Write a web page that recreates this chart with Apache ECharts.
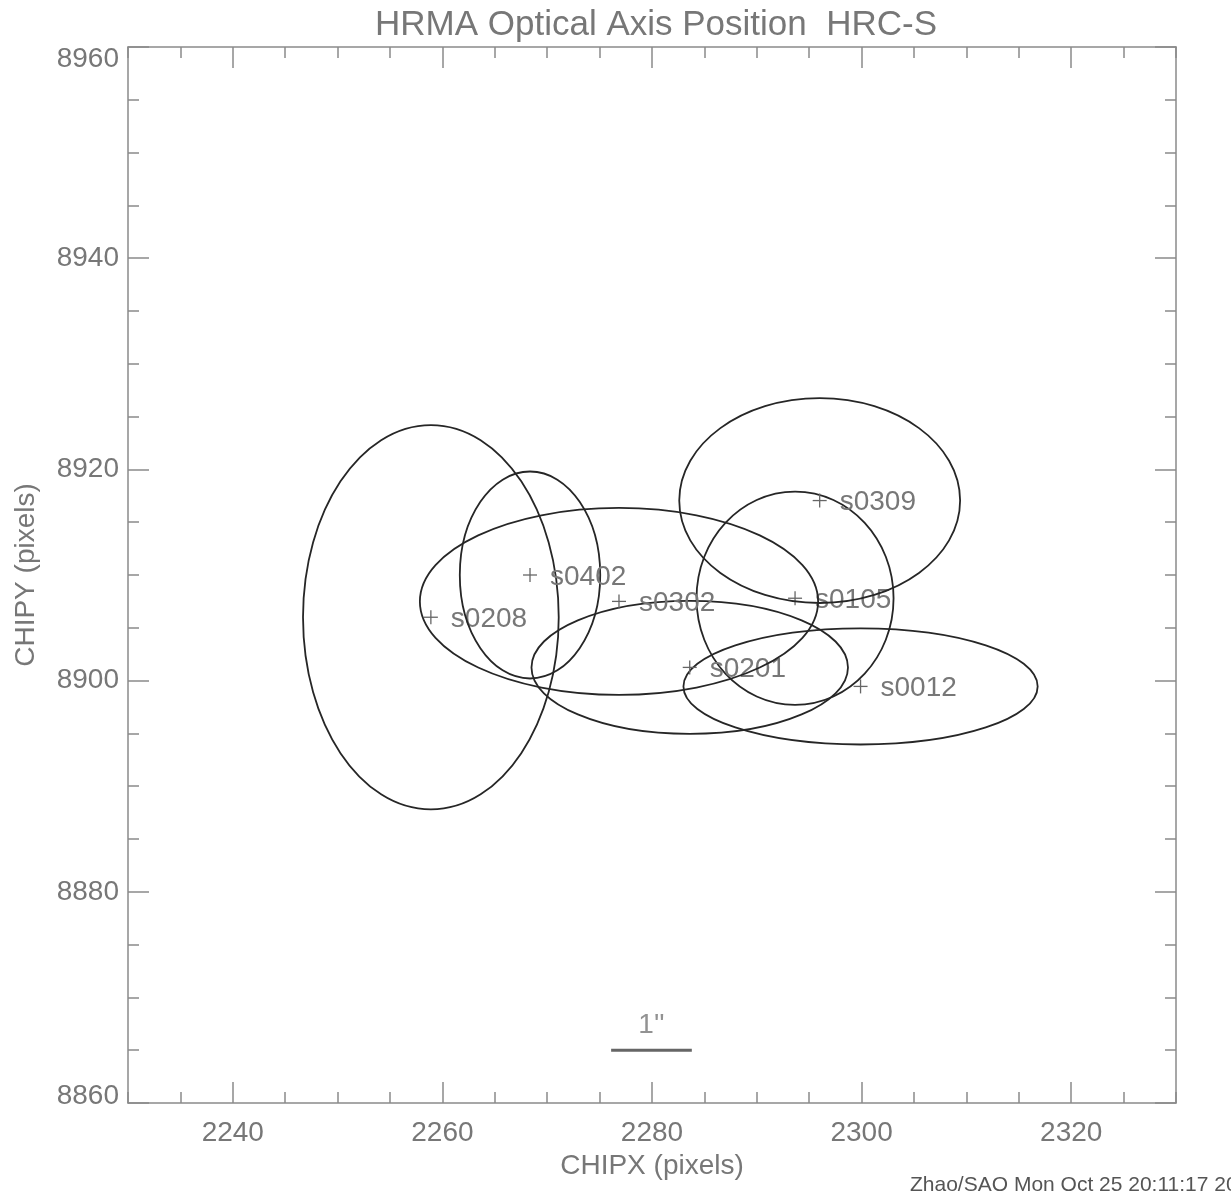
<!DOCTYPE html>
<html>
<head>
<meta charset="utf-8">
<script src="https://cdn.jsdelivr.net/npm/echarts@6/dist/echarts.min.js"></script>
<style>
html,body{margin:0;padding:0;background:#fff;}
#chart{width:1231px;height:1198px;}
</style>
</head>
<body>
<div id="chart"></div>
<script>
// ---- data ----
const sourceNames = ['s0012', 's0105', 's0201', 's0208', 's0302', 's0309', 's0402'];
const centerX = [2299.9, 2293.65, 2283.6, 2258.9, 2276.85, 2296.0, 2268.36];
const centerY = [8899.45, 8907.8, 8901.25, 8906.0, 8907.5, 8917.05, 8910.0];
const radiusX = [16.9, 9.4, 15.1, 12.2, 19.0, 13.4, 6.7];
const radiusY = [5.5, 10.1, 6.3, 18.2, 8.85, 9.7, 9.8];
const xMajorTicks = [2240, 2260, 2280, 2300, 2320];
const scaleBarX = [2276.1, 2283.8];
const scaleBarY = 8865.0;
const scaleBarLabel = "1''";
const scaleBarLabelPos = [2279.95, 8867.4];
const titleText = 'HRMA Optical Axis Position  HRC-S';
const footerText = 'Zhao/SAO Mon Oct 25 20:11:17 2010';

const FONT = '"Liberation Sans", Arial, sans-serif';
const TXT = '#777';
const AX = '#8a8a8a';

const ellipseData = sourceNames.map((n, i) => [centerX[i], centerY[i], radiusX[i], radiusY[i], n]);

const chart = echarts.init(document.getElementById('chart'), null, {renderer: 'canvas'});

const xBase = {
  type: 'value', min: 2230, max: 2330, gridIndex: 0,
  splitLine: {show: false},
  axisLine: {show: true, onZero: false, lineStyle: {color: AX, width: 1.5}}
};
const yBase = {
  type: 'value', min: 8860, max: 8960, interval: 20, gridIndex: 0,
  splitLine: {show: false},
  axisLine: {show: true, onZero: false, lineStyle: {color: AX, width: 1.5}},
  axisTick: {show: true, inside: true, length: 21, lineStyle: {color: AX, width: 1.5}},
  minorTick: {show: true, splitNumber: 4, length: 11, lineStyle: {color: AX, width: 1.5}},
  minorSplitLine: {show: false}
};

const option = {
  backgroundColor: '#fff',
  animation: false,
  title: {
    text: titleText, left: 651, top: 3, textAlign: 'center',
    textStyle: {fontFamily: FONT, fontSize: 35, fontWeight: 'normal', color: TXT}
  },
  grid: {left: 128, right: 55, top: 47, bottom: 95, containLabel: false},
  xAxis: [
    Object.assign({}, xBase, {
      position: 'bottom',
      name: 'CHIPX (pixels)', nameLocation: 'middle', nameGap: 44,
      nameTextStyle: {fontFamily: FONT, fontSize: 28, color: TXT},
      axisTick: {show: true, inside: true, length: 21, customValues: xMajorTicks, lineStyle: {color: AX, width: 1.5}},
      axisLabel: {show: true, customValues: xMajorTicks, margin: 16, fontFamily: FONT, fontSize: 28, color: TXT,
                  formatter: function (v) { return String(v); }}
    }),
    Object.assign({}, xBase, {
      position: 'top',
      axisTick: {show: true, inside: true, length: 21, customValues: xMajorTicks, lineStyle: {color: AX, width: 1.5}},
      axisLabel: {show: false}
    }),
    Object.assign({}, xBase, {
      position: 'bottom', interval: 5,
      axisLine: {show: false},
      axisTick: {show: true, inside: true, length: 11, lineStyle: {color: AX, width: 1.5}},
      axisLabel: {show: false}
    }),
    Object.assign({}, xBase, {
      position: 'top', interval: 5,
      axisLine: {show: false},
      axisTick: {show: true, inside: true, length: 11, lineStyle: {color: AX, width: 1.5}},
      axisLabel: {show: false}
    })
  ],
  yAxis: [
    Object.assign({}, yBase, {
      position: 'left',
      name: 'CHIPY (pixels)', nameLocation: 'middle', nameGap: 88,
      nameTextStyle: {fontFamily: FONT, fontSize: 28, color: TXT},
      axisLabel: {
        show: true, margin: 9, fontFamily: FONT, fontSize: 28, color: TXT,
        showMinLabel: true, showMaxLabel: true,
        formatter: function (v) {
          if (v === 8960) return '{t|' + v + '}';
          if (v === 8860) return '{b|' + v + '}';
          return '{n|' + v + '}';
        },
        rich: {
          t: {fontFamily: FONT, fontSize: 28, color: TXT, padding: [24, 0, 0, 0]},
          b: {fontFamily: FONT, fontSize: 28, color: TXT, padding: [0, 0, 13, 0]},
          n: {fontFamily: FONT, fontSize: 28, color: TXT}
        }
      }
    }),
    Object.assign({}, yBase, {
      position: 'right',
      axisLabel: {show: false}
    })
  ],
  series: [
    {
      type: 'custom',
      name: 'positions',
      xAxisIndex: 0, yAxisIndex: 0,
      clip: false,
      data: ellipseData,
      renderItem: function (params, api) {
        const c = api.coord([api.value(0), api.value(1)]);
        const s = api.size([api.value(2), api.value(3)]);
        const label = ellipseData[params.dataIndex][4];
        return {
          type: 'group',
          children: [
            {type: 'ellipse', shape: {cx: c[0], cy: c[1], rx: s[0], ry: s[1]},
             style: {fill: 'none', stroke: '#262626', lineWidth: 1.8}},
            {type: 'line', shape: {x1: c[0] - 7, y1: c[1], x2: c[0] + 7, y2: c[1]},
             style: {stroke: '#666', lineWidth: 1.3}},
            {type: 'line', shape: {x1: c[0], y1: c[1] - 7, x2: c[0], y2: c[1] + 7},
             style: {stroke: '#666', lineWidth: 1.3}},
            {type: 'text', x: c[0] + 20, y: c[1] + 2,
             style: {text: label, fill: TXT, font: '28px ' + FONT, align: 'left', verticalAlign: 'middle'}}
          ]
        };
      }
    },
    {
      type: 'line',
      name: 'scale',
      xAxisIndex: 0, yAxisIndex: 0,
      symbol: 'none',
      lineStyle: {color: '#666', width: 3},
      data: [[scaleBarX[0], scaleBarY], [scaleBarX[1], scaleBarY]]
    },
    {
      type: 'scatter',
      name: 'scaleLabel',
      xAxisIndex: 0, yAxisIndex: 0,
      symbolSize: 0,
      data: [scaleBarLabelPos],
      label: {show: true, position: 'inside', formatter: scaleBarLabel,
              fontFamily: FONT, fontSize: 28, color: TXT}
    }
  ],
  graphic: [
    {type: 'text', left: 910, top: 1175,
     style: {text: footerText, fill: '#555', font: '21px ' + FONT}}
  ]
};

chart.setOption(option);
</script>
</body>
</html>
